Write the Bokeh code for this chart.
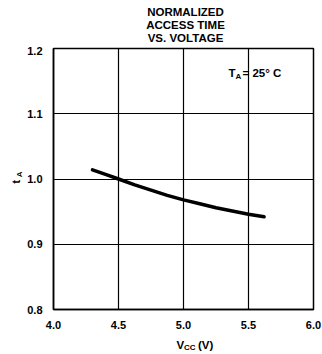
from bokeh.plotting import figure
from bokeh.models import Label, Range1d, FixedTicker
from bokeh.layouts import column, row
from bokeh.embed import file_html
from bokeh.resources import INLINE
import math

# Data
vcc = [4.3, 4.4, 4.5, 4.625, 4.75, 4.875, 5.0, 5.125, 5.25, 5.375, 5.5, 5.62]
ta = [1.014, 1.007, 1.000, 0.991, 0.983, 0.975, 0.968, 0.962, 0.956, 0.951, 0.946, 0.942]
x_ticks = [4.0, 4.5, 5.0, 5.5, 6.0]
y_ticks = [0.8, 0.9, 1.0, 1.1, 1.2]
title_lines = ["NORMALIZED", "ACCESS TIME", "VS. VOLTAGE"]

FONT = "Liberation Sans"
W = 322
TOP_H, MID_H, BOT_H = 46, 286, 22
LEFT_W = 24


def text_panel(w, h):
    f = figure(width=w, height=h, output_backend="svg", toolbar_location=None,
               x_range=Range1d(0, w), y_range=Range1d(h, 0),
               x_axis_location=None, y_axis_location=None, min_border=0)
    f.outline_line_color = None
    f.grid.visible = False
    f.background_fill_color = "white"
    f.border_fill_color = "white"
    return f


def lab(f, x, y, text, size="10.5px", angle=0.0, align="left", units="data"):
    f.add_layout(Label(x=x, y=y, x_units=units, y_units=units, text=text,
                       text_font=FONT, text_font_style="bold",
                       text_font_size=size, text_color="black", angle=angle,
                       text_align=align, text_baseline="middle"))


# ---- title panel
ft = text_panel(W, TOP_H)
for txt, yy in zip(title_lines, [11.5, 24.5, 37.5]):
    lab(ft, 185, yy, txt, size="11.5px", align="center")

# ---- left panel (y axis label t_A)
fl = text_panel(LEFT_W, MID_H)
lab(fl, 15, 146, "t", size="11.5px", angle=math.pi / 2, align="center")
lab(fl, 18.5, 138, "A", size="8px", angle=math.pi / 2, align="center")

# ---- main chart
p = figure(width=W - LEFT_W, height=MID_H, output_backend="svg", toolbar_location=None,
           x_range=Range1d(4.0, 6.0), y_range=Range1d(0.8, 1.2),
           min_border_left=29, min_border_right=9, min_border_top=2, min_border_bottom=23)
p.background_fill_color = "white"
p.border_fill_color = "white"
p.outline_line_color = "black"
p.outline_line_width = 1.5

for ax in (p.xaxis, p.yaxis):
    ax.major_tick_line_color = None
    ax.minor_tick_line_color = None
    ax.axis_line_color = "black"
    ax.axis_line_width = 1.5
    ax.major_label_text_font = FONT
    ax.major_label_text_font_style = "bold"
    ax.major_label_text_font_size = "11px"
    ax.major_label_text_color = "black"
p.xaxis.ticker = FixedTicker(ticks=x_ticks)
p.yaxis.ticker = FixedTicker(ticks=y_ticks)
p.xaxis.major_label_overrides = {t: f"{t:.1f}" for t in x_ticks}
p.yaxis.major_label_overrides = {t: f"{t:.1f}" for t in y_ticks}
p.xaxis.major_label_standoff = 5
p.yaxis.major_label_standoff = 5

p.xgrid.ticker = FixedTicker(ticks=x_ticks[1:-1])
p.ygrid.ticker = FixedTicker(ticks=y_ticks[1:-1])
for g in (p.xgrid, p.ygrid):
    g.grid_line_color = "black"
    g.grid_line_width = 1.2
    g.grid_line_alpha = 1.0

p.line(vcc, ta, line_color="black", line_width=3.5, line_cap="round")

# Annotation T_A = 25°C  (screen units relative to the plot frame's bottom-left)
FL, FB = 53, 309
lab(p, 228 - FL, FB - 72, "T", size="11.5px", units="screen")
lab(p, 235 - FL, FB - 76, "A", size="8px", units="screen")
lab(p, 242 - FL, FB - 72, "= 25° C", size="11.5px", units="screen")

# ---- bottom panel (x axis label V_CC (V))
fb = text_panel(W, BOT_H)
lab(fb, 176, 12, "V", size="11.5px")
lab(fb, 183.5, 15, "CC", size="8px")
lab(fb, 197.5, 12, "(V)", size="11.5px")

layout = column(ft, row(fl, p, spacing=0), fb, spacing=0)
open("out.html", "w").write(file_html(layout, INLINE))
